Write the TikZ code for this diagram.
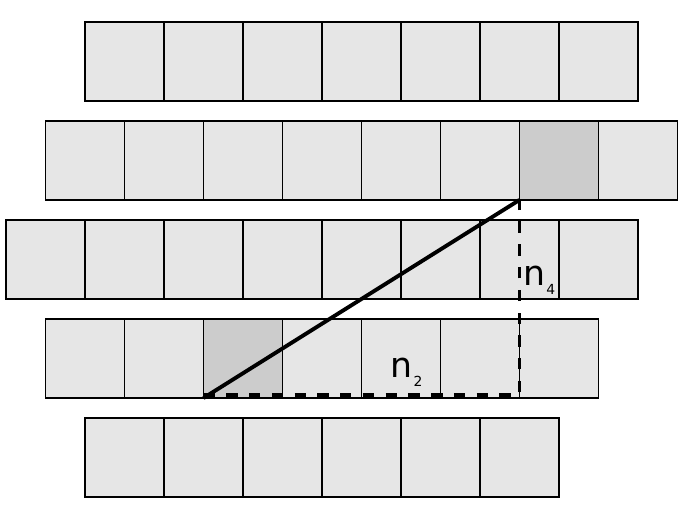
\documentclass[tikz,border=0pt]{standalone}
\usepackage{fontspec}
\setmainfont{DejaVu Sans}
\usepackage{tikz}
\usetikzlibrary{calc}
\usepackage{tkz-euclide}
\definecolor{cellgray}{HTML}{E6E6E6}
\definecolor{cellmark}{HTML}{CCCCCC}

\begin{document}
\begin{tikzpicture}[cell/.style={draw=black, line width=0.6pt, fill=cellgray},
                markcell/.style={cell, fill=cellmark},
                lbl/.style={anchor=base west, inner sep=0pt, font=\fontsize{12.5pt}{14pt}\selectfont}]
                \useasboundingbox (0,0) rectangle (8.709,6.544);
                \foreach \sh/\cnt/\row in {2/7/4, 1/8/3, 0/8/2, 1/7/1, 2/6/0}
                    \foreach \i in {1,...,\cnt}
                        \draw[cell] ({0.076+0.5*\sh+\i-1},{0.253+1.253*\row}) rectangle ++(1,1);
                \tkzDefPoint(2.576,1.506){A}
                \tkzDefPoint(6.576,4.013){B}
                \tkzDefPoint(2.576,1.544){D}
                \tkzDefPoint(6.576,1.544){C}
                \draw[markcell] (A) rectangle ++(1,1);
                \draw[markcell] (B) rectangle ++(1,1);
                \draw[line width=1.4pt, dash pattern=on 4.1pt off 4.1pt] (D) -- (C) -- (B);
                \draw[line width=1.4pt] (A) -- (B);
                \node[lbl] (n2) at (4.94,1.76) {n\kern0.3pt\raisebox{-3pt}{\fontsize{5pt}{6pt}\selectfont 2}};
                \node[lbl] (n4) at (6.62,2.924) {n\kern0.3pt\raisebox{-3pt}{\fontsize{5pt}{6pt}\selectfont 4}};
            \end{tikzpicture}
\end{document}
